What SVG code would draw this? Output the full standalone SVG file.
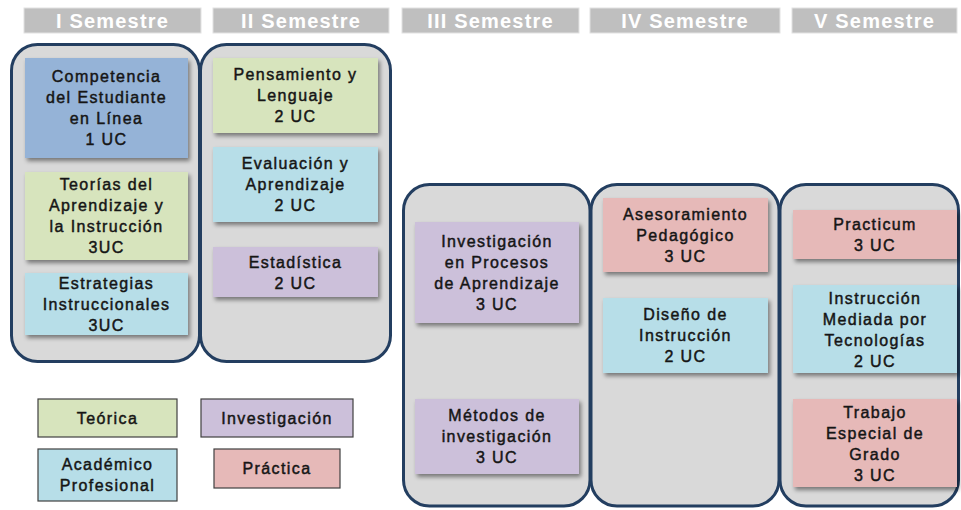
<svg xmlns="http://www.w3.org/2000/svg" width="961" height="510" viewBox="0 0 961 510">
<style>
.hdr{fill:#bfbfbf;stroke:#e2e2e2;stroke-width:1}
.ht{font-family:"Liberation Sans",Arial,sans-serif;font-weight:bold;font-size:20px;letter-spacing:1.2px;fill:#ffffff;text-anchor:middle}
.col{fill:#d9d9d9;stroke:#233e60;stroke-width:3}
.box{filter:url(#sh)}
.t{font-family:"Liberation Sans",Arial,sans-serif;font-size:16px;letter-spacing:1.4px;fill:#151515;stroke:#151515;stroke-width:0.45;text-anchor:middle}
.blue{fill:#95b3d7}
.green{fill:#d7e4bd}
.lblue{fill:#b7dee8}
.purple{fill:#ccc0da}
.pink{fill:#e6b9b8}
.leg{stroke:#404040;stroke-width:1.2}
</style>
<defs>
<filter id="sh" x="-10%" y="-10%" width="125%" height="135%">
<feDropShadow dx="2" dy="3" stdDeviation="2" flood-color="#000" flood-opacity="0.45"/>
</filter>
</defs>
<rect width="961" height="510" fill="#ffffff"/>

<g id="headers">
<rect class="hdr" x="24" y="8" width="177" height="25"/>
<text class="ht" x="112.5" y="28">I Semestre</text>
<rect class="hdr" x="213" y="8" width="176" height="25"/>
<text class="ht" x="301" y="28">II Semestre</text>
<rect class="hdr" x="402" y="8" width="177" height="25"/>
<text class="ht" x="490.5" y="28">III Semestre</text>
<rect class="hdr" x="590" y="8" width="190" height="25"/>
<text class="ht" x="685" y="28">IV Semestre</text>
<rect class="hdr" x="792" y="8" width="165" height="25"/>
<text class="ht" x="874.5" y="28">V Semestre</text>
</g>

<g id="columns">
<rect id="col1" class="col" x="11.5" y="44.5" width="188" height="317" rx="26"/>
<rect id="col2" class="col" x="200.5" y="44.5" width="190" height="317" rx="26"/>
<rect id="col3" class="col" x="403.5" y="184.5" width="186.5" height="321.5" rx="26"/>
<rect id="col4" class="col" x="591" y="184.5" width="188" height="321.5" rx="26"/>
<rect id="col5" class="col" x="780" y="184.5" width="178.5" height="321.5" rx="26"/>
</g>

<g id="connectors"></g>

<g id="n-competencia">
<rect class="box blue" x="25" y="58" width="163" height="100"/>
<text class="t" x="106.5" y="82">Competencia</text>
<text class="t" x="106.5" y="103">del Estudiante</text>
<text class="t" x="106.5" y="124">en Línea</text>
<text class="t" x="106.5" y="145">1 UC</text>
</g>
<g id="n-teorias">
<rect class="box green" x="25" y="172" width="163" height="88"/>
<text class="t" x="106.5" y="190">Teorías del</text>
<text class="t" x="106.5" y="211">Aprendizaje y</text>
<text class="t" x="106.5" y="232">la Instrucción</text>
<text class="t" x="106.5" y="253">3UC</text>
</g>
<g id="n-estrategias">
<rect class="box lblue" x="25" y="273" width="163" height="62"/>
<text class="t" x="106.5" y="288.5">Estrategias</text>
<text class="t" x="106.5" y="309.5">Instruccionales</text>
<text class="t" x="106.5" y="330.5">3UC</text>
</g>

<g id="n-pensamiento">
<rect class="box green" x="213" y="58" width="165" height="75"/>
<text class="t" x="295.5" y="80">Pensamiento y</text>
<text class="t" x="295.5" y="101">Lenguaje</text>
<text class="t" x="295.5" y="122">2 UC</text>
</g>
<g id="n-evaluacion">
<rect class="box lblue" x="213" y="147" width="165" height="75"/>
<text class="t" x="295.5" y="169">Evaluación y</text>
<text class="t" x="295.5" y="190">Aprendizaje</text>
<text class="t" x="295.5" y="211">2 UC</text>
</g>
<g id="n-estadistica">
<rect class="box purple" x="213" y="247" width="165" height="50"/>
<text class="t" x="295.5" y="267.5">Estadística</text>
<text class="t" x="295.5" y="288.5">2 UC</text>
</g>

<g id="n-investigacion-procesos">
<rect class="box purple" x="415" y="222" width="164" height="101"/>
<text class="t" x="497" y="247">Investigación</text>
<text class="t" x="497" y="268">en Procesos</text>
<text class="t" x="497" y="289">de Aprendizaje</text>
<text class="t" x="497" y="310">3 UC</text>
</g>
<g id="n-metodos">
<rect class="box purple" x="415" y="399" width="164" height="75"/>
<text class="t" x="497" y="421">Métodos de</text>
<text class="t" x="497" y="442">investigación</text>
<text class="t" x="497" y="463">3 UC</text>
</g>

<g id="n-asesoramiento">
<rect class="box pink" x="603" y="198" width="165" height="74"/>
<text class="t" x="685.5" y="219.5">Asesoramiento</text>
<text class="t" x="685.5" y="240.5">Pedagógico</text>
<text class="t" x="685.5" y="261.5">3 UC</text>
</g>
<g id="n-diseno">
<rect class="box lblue" x="603" y="298" width="165" height="75"/>
<text class="t" x="685.5" y="320">Diseño de</text>
<text class="t" x="685.5" y="341">Instrucción</text>
<text class="t" x="685.5" y="362">2 UC</text>
</g>

<g id="n-practicum">
<rect class="box pink" x="793" y="210" width="164" height="49"/>
<text class="t" x="875" y="229.5">Practicum</text>
<text class="t" x="875" y="250.5">3 UC</text>
</g>
<g id="n-instruccion-mediada">
<rect class="box lblue" x="793" y="285" width="164" height="88"/>
<text class="t" x="875" y="303.5">Instrucción</text>
<text class="t" x="875" y="324.5">Mediada por</text>
<text class="t" x="875" y="345.5">Tecnologías</text>
<text class="t" x="875" y="366.5">2 UC</text>
</g>
<g id="n-trabajo">
<rect class="box pink" x="793" y="399" width="164" height="88"/>
<text class="t" x="875" y="417.5">Trabajo</text>
<text class="t" x="875" y="438.5">Especial de</text>
<text class="t" x="875" y="459.5">Grado</text>
<text class="t" x="875" y="480.5">3 UC</text>
</g>

<g id="legend">
<g id="leg-teorica">
<rect class="leg green" x="38" y="399" width="139" height="38"/>
<text class="t" x="107.5" y="423.5">Teórica</text>
</g>
<g id="leg-investigacion">
<rect class="leg purple" x="201" y="399" width="152" height="38"/>
<text class="t" x="277" y="423.5">Investigación</text>
</g>
<g id="leg-academico">
<rect class="leg lblue" x="38" y="449" width="139" height="52"/>
<text class="t" x="107.5" y="470">Académico</text>
<text class="t" x="107.5" y="491">Profesional</text>
</g>
<g id="leg-practica">
<rect class="leg pink" x="214" y="449" width="126" height="39"/>
<text class="t" x="277" y="474">Práctica</text>
</g>
</g>
</svg>
